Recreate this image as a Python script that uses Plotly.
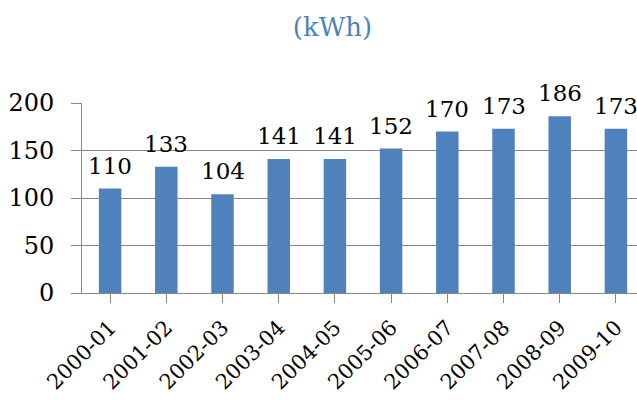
import plotly.graph_objects as go

# Annual household electricity use per consumer (kWh)
years = ["2000-01", "2001-02", "2002-03", "2003-04", "2004-05",
         "2005-06", "2006-07", "2007-08", "2008-09", "2009-10"]
kwh = [110, 133, 104, 141, 141, 152, 170, 173, 186, 173]

serif = "DejaVu Serif"
bar_color = "#4F81BD"
grid_color = "#868686"

fig = go.Figure(
    go.Bar(
        x=list(range(len(years))),
        y=kwh,
        marker=dict(color=bar_color, line=dict(width=0)),
        width=0.4,
        hoverinfo="skip",
    )
)

# value labels just above each bar
for i, v in enumerate(kwh):
    fig.add_annotation(
        x=i, y=v, text=str(v), showarrow=False,
        yanchor="bottom", yshift=8,
        font=dict(family=serif, size=23, color="#000000"),
    )

fig.update_layout(
    width=637, height=400,
    margin=dict(l=82, r=0, t=103, b=107),
    paper_bgcolor="white", plot_bgcolor="white",
    showlegend=False,
    font=dict(family=serif),
    title=dict(
        text="(kWh)", x=0.522, xanchor="center",
        y=0.932, yanchor="middle", yref="container",
        font=dict(family=serif, size=26, color=bar_color),
    ),
    xaxis=dict(
        range=[-0.5, 9.375],
        tickmode="array",
        tickvals=list(range(len(years))),
        ticktext=years,
        tickson="boundaries",
        ticks="outside", ticklen=9, tickcolor=grid_color, tickwidth=1,
        showline=True, linecolor=grid_color, linewidth=1,
        showgrid=False, zeroline=False,
        tickangle=-45,
        automargin=False,
        ticklabelstandoff=4,
        tickfont=dict(family=serif, size=21, color="#000000"),
        fixedrange=True,
    ),
    yaxis=dict(
        range=[0, 200],
        tickvals=[0, 50, 100, 150, 200],
        ticks="outside", ticklen=10, tickcolor=grid_color, tickwidth=1,
        showline=True, linecolor=grid_color, linewidth=1,
        showgrid=True, gridcolor=grid_color, gridwidth=1,
        zeroline=False,
        automargin=False,
        ticklabelstandoff=12,
        tickfont=dict(family=serif, size=24, color="#000000"),
        fixedrange=True,
    ),
)

fig.write_html("out.html")
